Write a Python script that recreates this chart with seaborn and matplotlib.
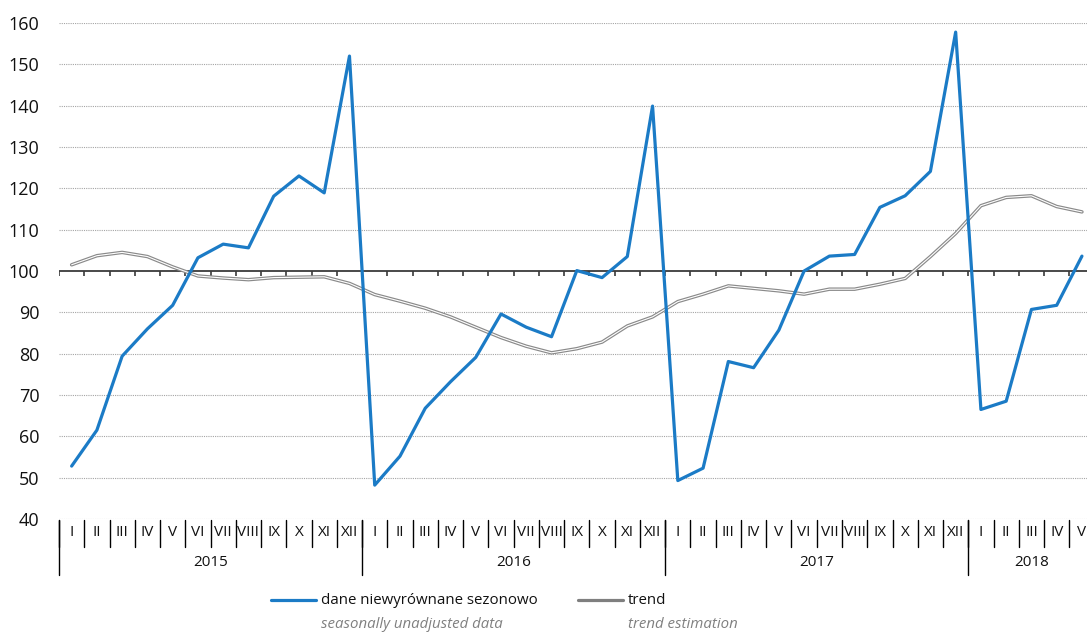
import numpy as np
import matplotlib
matplotlib.use("Agg")
import matplotlib.pyplot as plt
import seaborn as sns
from matplotlib.lines import Line2D
from matplotlib.transforms import blended_transform_factory

# Data
months = ["I", "II", "III", "IV", "V", "VI", "VII", "VIII", "IX", "X", "XI", "XII"]
years = ["2015", "2016", "2017", "2018"]
n_months = [12, 12, 12, 5]

unadjusted = [52.8, 61.5, 79.4, 86.0, 91.7, 103.2, 106.5, 105.6, 118.1, 123.0, 118.9, 152.0,
              48.2, 55.2, 66.8, 73.2, 79.1, 89.6, 86.4, 84.1, 100.1, 98.4, 103.5, 139.9,
              49.3, 52.3, 78.1, 76.6, 85.7, 100.0, 103.6, 104.0, 115.4, 118.2, 124.1, 157.8,
              66.5, 68.5, 90.7, 91.7, 103.6]
trend = [101.5, 103.7, 104.5, 103.5, 101.0, 98.8, 98.3, 97.9, 98.4, 98.5, 98.6, 97.0,
         94.3, 92.7, 91.0, 88.9, 86.4, 83.9, 81.8, 80.2, 81.2, 82.8, 86.7, 88.9,
         92.6, 94.4, 96.4, 95.8, 95.2, 94.4, 95.6, 95.6, 96.8, 98.2, 103.5, 109.1,
         115.8, 117.8, 118.2, 115.6, 114.3]

month_labels = [m for n in n_months for m in months[:n]]
x = np.arange(len(unadjusted))

blue = "#1b7bc6"
grey = "#8a8a8a"

sns.set_style("white")
plt.rcParams["font.family"] = ["Open Sans", "DejaVu Sans"]

fig = plt.figure(figsize=(10.87, 6.34), dpi=100)
ax = fig.add_axes([59 / 1087, 1 - 519 / 634, 1028 / 1087, 496 / 634])

# gridlines
for v in range(40, 161, 10):
    if v != 100:
        ax.axhline(v, color="#a5a5a5", lw=0.8, ls=(0, (1, 1)), zorder=0)
ax.axhline(100, color="#3a3a3a", lw=1.3, zorder=1)
ax.vlines(np.arange(-0.5, len(x), 1), 98.8, 100, color="#3a3a3a", lw=1.2, zorder=1)

# trend (double line) and unadjusted data
sns.lineplot(x=x, y=trend, color=grey, lw=2.5, ax=ax, zorder=2)
sns.lineplot(x=x, y=trend, color="white", lw=0.8, ax=ax, zorder=3)
sns.lineplot(x=x, y=unadjusted, color=blue, lw=2.3, ax=ax, zorder=4)

ax.set_xlim(-0.5, 40.2)
ax.set_ylim(40, 160)
ax.set_yticks(range(40, 161, 10))
ax.set_xticks([])
ax.tick_params(axis="y", length=0, pad=14, labelsize=13, labelcolor="#111111")
for s in ax.spines.values():
    s.set_visible(False)

# month / year axis drawn below the plot
tr = blended_transform_factory(ax.transData, fig.transFigure)
for i, lab in enumerate(month_labels):
    ax.text(i, 1 - 533 / 634, lab, transform=tr, ha="center", va="center",
            fontsize=11, color="#111111", clip_on=False)
for b in np.arange(-0.5, len(x) - 1, 1):
    ax.plot([b, b], [1 - 520 / 634, 1 - 547 / 634], transform=tr, color="black",
            lw=1, clip_on=False)
start = 0
for yr, n in zip(years, n_months):
    ax.plot([start - 0.5, start - 0.5], [1 - 520 / 634, 1 - 575 / 634], transform=tr,
            color="black", lw=1, clip_on=False)
    ax.text(start + (n - 1) / 2, 1 - 562 / 634, yr, transform=tr, ha="center",
            va="center", fontsize=11, color="#111111", clip_on=False)
    start += n

# legend
W, H = 1087, 634
fig.add_artist(Line2D([271 / W, 316 / W], [1 - 600 / H] * 2, color=blue, lw=2.3))
fig.text(321 / W, 1 - 600 / H, "dane niewyrównane sezonowo", fontsize=10.8,
         va="center", ha="left", color="#111111")
fig.text(321 / W, 1 - 625 / H, "seasonally unadjusted data", fontsize=10.8,
         va="center", ha="left", color="#808080", style="italic")
fig.add_artist(Line2D([578 / W, 623 / W], [1 - 600 / H] * 2, color="#7f7f7f", lw=2.3))
fig.text(628 / W, 1 - 600 / H, "trend", fontsize=10.8, va="center", ha="left",
         color="#111111")
fig.text(628 / W, 1 - 625 / H, "trend estimation", fontsize=10.8, va="center",
         ha="left", color="#808080", style="italic")

fig.savefig("out.png", dpi=100)
